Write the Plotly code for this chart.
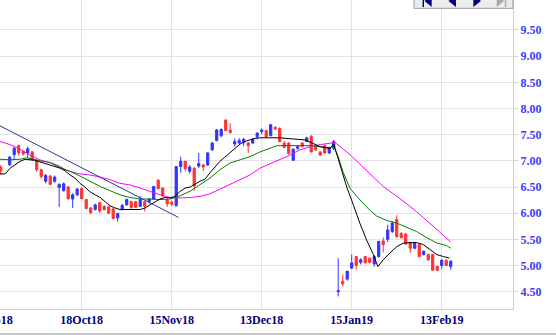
import plotly.graph_objects as go

# ---------------- data ----------------
# bar index: 0 = 18Oct18, one step per trading day
idx = [-18, -16, -15, -14, -13, -12, -11, -10, -9, -8, -7, -6, -5, -4, -3, -2, -1,
       0, 1, 2, 3, 4, 5, 6, 7, 8, 9, 10, 11, 12, 13, 14, 15, 16, 17, 18, 19, 20,
       21, 22, 23, 24, 25, 26, 27, 28, 29, 30, 31, 32, 33, 34, 35, 36, 37, 38, 39, 40,
       41, 42, 43, 44, 45, 46, 47, 48, 49, 50, 51, 52, 53, 54, 55, 56,
       57, 58, 59, 60, 61, 62, 63, 64, 65, 66, 67, 68, 69, 70, 71, 72, 73, 74, 75,
       76, 77, 78, 79, 80, 81, 82]
opens = [6.88, 6.93, 7.12, 7.29, 7.18, 7.15, 7.17, 6.99, 6.83, 6.61, 6.71, 6.61, 6.49, 6.43, 6.50, 6.27, 6.35,
         6.47, 6.26, 6.10, 6.07, 6.20, 6.13, 6.12, 6.08, 5.91, 6.08, 6.16, 6.22, 6.22, 6.13, 6.22, 6.22, 6.27, 6.63, 6.48, 6.25, 6.21,
         6.14, 6.89, 6.99, 6.80, 6.86, 6.90, 6.92, 6.92, 7.21, 7.39, 7.48, 7.78, 7.59, 7.32, 7.34, 7.35, 7.34, 7.34, 7.46, 7.56,
         7.58, 7.48, 7.64, 7.62, 7.34, 7.34, 7.01, 7.24, 7.34, 7.37, 7.47, 7.27, 7.17, 7.29, 7.15, 7.24,
         4.50, 4.70, 4.74, 4.95, 5.17, 5.06, 5.17, 5.14, 5.03, 5.17, 5.47, 5.50, 5.65, 5.88, 5.61, 5.60, 5.44, 5.33, 5.40,
         5.21, 5.21, 5.21, 4.98, 5.00, 5.10, 4.98]
highs = [6.92, 7.09, 7.27, 7.31, 7.20, 7.27, 7.19, 7.04, 6.85, 6.75, 6.73, 6.72, 6.57, 6.59, 6.52, 6.38, 6.48,
         6.49, 6.27, 6.12, 6.18, 6.22, 6.15, 6.14, 6.10, 6.01, 6.18, 6.28, 6.24, 6.23, 6.33, 6.24, 6.29, 6.52, 6.65, 6.50, 6.30, 6.24,
         6.90, 7.08, 7.00, 6.92, 6.88, 7.15, 6.94, 7.17, 7.36, 7.61, 7.62, 7.79, 7.72, 7.43, 7.43, 7.44, 7.36, 7.43, 7.55, 7.62,
         7.59, 7.70, 7.66, 7.64, 7.38, 7.36, 7.24, 7.30, 7.36, 7.46, 7.49, 7.29, 7.19, 7.31, 7.27, 7.40,
         5.14, 4.83, 4.90, 5.21, 5.18, 5.14, 5.18, 5.16, 5.20, 5.47, 5.54, 5.78, 5.85, 5.96, 5.64, 5.62, 5.46, 5.45, 5.42,
         5.29, 5.23, 5.22, 5.00, 5.12, 5.12, 5.10]
lows = [6.74, 6.90, 7.03, 7.10, 7.10, 7.06, 7.00, 6.79, 6.66, 6.57, 6.54, 6.58, 6.12, 6.41, 6.25, 6.10, 6.33,
        6.26, 6.07, 5.98, 6.05, 6.01, 6.05, 5.98, 5.88, 5.84, 6.05, 6.14, 6.08, 6.10, 6.12, 6.03, 6.18, 6.26, 6.45, 6.31, 6.12, 6.14,
        6.13, 6.77, 6.80, 6.76, 6.43, 6.86, 6.80, 6.90, 7.19, 7.37, 7.45, 7.56, 7.52, 7.27, 7.32, 7.28, 7.15, 7.32, 7.41, 7.51,
        7.44, 7.47, 7.59, 7.35, 7.24, 7.12, 7.00, 7.21, 7.26, 7.36, 7.16, 7.19, 7.10, 7.13, 7.13, 7.20,
        4.41, 4.60, 4.71, 4.93, 4.92, 5.02, 5.04, 5.04, 4.98, 5.15, 5.25, 5.45, 5.62, 5.54, 5.52, 5.40, 5.24, 5.31, 5.16,
        5.19, 5.09, 4.90, 4.89, 4.94, 4.99, 4.92]
closes = [6.80, 7.07, 7.24, 7.15, 7.13, 7.23, 7.02, 6.83, 6.70, 6.72, 6.55, 6.69, 6.55, 6.56, 6.28, 6.35, 6.46,
          6.28, 6.09, 6.01, 6.16, 6.04, 6.07, 6.00, 5.90, 5.99, 6.15, 6.26, 6.11, 6.11, 6.26, 6.13, 6.27, 6.51, 6.47, 6.33, 6.18, 6.17,
          6.89, 6.99, 6.85, 6.88, 6.52, 6.95, 6.88, 7.15, 7.34, 7.59, 7.60, 7.58, 7.54, 7.37, 7.39, 7.41, 7.29, 7.41, 7.53, 7.59,
          7.46, 7.69, 7.61, 7.37, 7.26, 7.14, 7.22, 7.27, 7.27, 7.44, 7.17, 7.21, 7.11, 7.15, 7.25, 7.37,
          4.52, 4.65, 4.89, 5.05, 5.00, 5.11, 5.05, 5.06, 5.17, 5.46, 5.40, 5.68, 5.81, 5.55, 5.53, 5.41, 5.33, 5.43, 5.17,
          5.27, 5.11, 4.91, 4.91, 5.10, 5.00, 5.08]

# short moving average (black)
ma_s_x = [-18.2, -17.0, -15.9, -14.8, -13.7, -12.6, -11.5, -10.4, -9.3, -7.0, -4.8, -3.7, -2.6, -1.5, -0.4, 0.7,
          1.8, 3.0, 4.1, 5.2, 6.3, 7.4, 8.5, 13.0, 14.1, 15.2, 16.3, 17.4, 18.5, 19.6, 20.7, 21.8, 23.0, 24.1,
          26.3, 27.4, 28.5, 29.6, 30.7, 31.8, 33.0, 34.1, 35.2, 36.3, 37.4, 38.5, 39.6, 43.0, 44.1, 45.2, 46.3,
          48.5, 49.6, 50.7, 51.8, 53.0, 54.1, 55.2, 56.0, 57.4, 58.9, 60.4, 61.8, 63.3, 64.8, 65.8, 67.0, 68.5,
          70.0, 71.5, 73.0, 74.4, 75.9, 77.4, 78.9, 80.4, 81.7]
ma_s_y = [6.75, 6.75, 6.86, 6.92, 6.99, 7.03, 7.02, 7.01, 6.98, 6.92, 6.86, 6.81, 6.73, 6.67, 6.57, 6.50,
          6.41, 6.35, 6.30, 6.22, 6.14, 6.10, 6.07, 6.07, 6.10, 6.16, 6.22, 6.27, 6.30, 6.29, 6.32, 6.41, 6.48, 6.50,
          6.61, 6.65, 6.77, 6.89, 6.99, 7.07, 7.15, 7.24, 7.32, 7.37, 7.40, 7.43, 7.44, 7.45, 7.44, 7.43, 7.42,
          7.41, 7.40, 7.36, 7.32, 7.27, 7.25, 7.24, 7.32, 6.92, 6.50, 6.15, 5.81, 5.49, 5.21, 4.98, 5.11, 5.24,
          5.36, 5.43, 5.44, 5.44, 5.40, 5.30, 5.21, 5.17, 5.14]

# medium moving average (green)
ma_m_x = [-18.2, -15.9, -13.7, -12.2, -10.8, -9.3, -7.0, -4.8, -3.7, -2.6, -0.4, 1.8, 4.1, 6.3, 8.5, 10.7,
          13.0, 15.2, 17.4, 19.6, 21.8, 24.1, 26.3, 28.5, 30.7, 33.0, 35.2, 37.4, 39.6, 41.8, 43.4, 46.3,
          50.7, 53.0, 55.2, 56.0, 57.0, 58.1, 59.6, 61.1, 62.6, 64.1, 65.6, 67.8, 70.0, 72.2, 74.4, 76.7,
          78.9, 81.1, 82.0]
ma_m_y = [7.03, 7.02, 7.03, 7.06, 7.03, 7.00, 6.97, 6.89, 6.83, 6.80, 6.71, 6.61, 6.51, 6.43, 6.35, 6.30,
          6.27, 6.27, 6.26, 6.27, 6.33, 6.42, 6.54, 6.67, 6.83, 6.96, 7.02, 7.08, 7.17, 7.24, 7.29, 7.29,
          7.29, 7.27, 7.25, 7.28, 7.08, 6.78, 6.48, 6.32, 6.18, 6.05, 5.94, 5.86, 5.81, 5.73, 5.65, 5.53,
          5.43, 5.38, 5.33]

# long moving average (magenta)
ma_l_x = [-18.2, -15.9, -13.7, -11.5, -9.3, -7.0, -4.8, -2.6, -0.4, 1.8, 4.1, 6.3, 8.5, 10.7, 13.0, 15.2,
          17.4, 19.6, 21.8, 24.1, 26.3, 28.5, 30.7, 33.0, 35.2, 37.4, 39.6, 41.8, 44.1, 46.3, 48.5, 50.7,
          53.0, 55.2, 56.3, 59.6, 63.3, 67.0, 70.7, 74.4, 78.1, 82.0]
ma_l_y = [7.37, 7.31, 7.22, 7.11, 7.02, 6.96, 6.87, 6.80, 6.75, 6.73, 6.69, 6.64, 6.57, 6.54, 6.48, 6.41,
          6.35, 6.30, 6.29, 6.30, 6.32, 6.37, 6.46, 6.54, 6.64, 6.73, 6.86, 6.94, 7.02, 7.11, 7.21, 7.27,
          7.31, 7.34, 7.35, 7.12, 6.82, 6.51, 6.28, 6.03, 5.75, 5.45]

# down trend line
trend_x = [-18.2, 21.5]
trend_y = [7.67, 5.92]

tick_idx = [0, 20, 40, 60, 80]
tick_text = ["18Oct18", "15Nov18", "13Dec18", "15Jan19", "13Feb19"]
first_tick_idx = -20
first_tick_text = "19Sep18"
price_ticks = [4.5, 5.0, 5.5, 6.0, 6.5, 7.0, 7.5, 8.0, 8.5, 9.0, 9.5]

# ---------------- figure ----------------
W, H = 556, 335
PL, PR, PT, PB = 0, 43, 0, 26
pw, ph = W - PL - PR, H - PT - PB
XR = [-18.156, 95.84]


def px(x):
    return (x - PL) / pw


def py(y):
    return (H - PB - y) / ph


fig = go.Figure()
fig.add_trace(go.Candlestick(
    x=idx, open=opens, high=highs, low=lows, close=closes,
    increasing=dict(line=dict(color="#3333ff", width=1), fillcolor="#3333ff"),
    decreasing=dict(line=dict(color="#ff3333", width=1), fillcolor="#ff3333"),
    whiskerwidth=0, hoverinfo="skip", showlegend=False))
fig.add_trace(go.Scatter(x=ma_l_x, y=ma_l_y, mode="lines", line=dict(color="#ff00ff", width=1), showlegend=False, hoverinfo="skip"))
fig.add_trace(go.Scatter(x=ma_m_x, y=ma_m_y, mode="lines", line=dict(color="#008000", width=1), showlegend=False, hoverinfo="skip"))
fig.add_trace(go.Scatter(x=ma_s_x, y=ma_s_y, mode="lines", line=dict(color="#000000", width=1), showlegend=False, hoverinfo="skip"))
fig.add_trace(go.Scatter(x=trend_x, y=trend_y, mode="lines", line=dict(color="#333399", width=1), showlegend=False, hoverinfo="skip"))

xfont = dict(family="Liberation Serif", size=12, color="#000080", weight="bold")
fig.update_layout(
    width=W, height=H, margin=dict(l=PL, r=PR, t=PT, b=PB),
    paper_bgcolor="white", plot_bgcolor="white",
    boxgap=0.3,
    xaxis=dict(range=XR, tickvals=tick_idx, ticktext=tick_text,
               showgrid=True, gridcolor="#e3e3e3", gridwidth=1, zeroline=False,
               showline=True, linecolor="#cfcfcf", linewidth=1, ticks="",
               rangeslider=dict(visible=False), tickfont=xfont),
    yaxis=dict(side="right", range=[4.169, 10.073], tickvals=price_ticks,
               ticktext=["%.2f" % v for v in price_ticks],
               showgrid=True, gridcolor="#e3e3e3", gridwidth=1, zeroline=False,
               showline=True, linecolor="#cfcfcf", linewidth=1,
               ticks="outside", ticklen=4, tickcolor="#cfcfcf",
               tickfont=dict(family="Liberation Serif", size=12, color="#3c3cff", weight="bold")),
)

# first date label, mostly cut off by the left edge
first_px = pw * (first_tick_idx - XR[0]) / (XR[1] - XR[0])
fig.add_annotation(x=px(first_px), y=py(320), xref="paper", yref="paper", text=first_tick_text,
                   showarrow=False, xanchor="center", yanchor="middle", font=xfont)

shapes = []
# navigation box at top right
shapes.append(dict(type="rect", xref="paper", yref="paper", x0=px(414), x1=px(513), y0=py(8.3), y1=py(-3),
                   fillcolor="#ececec", line=dict(color="#9a9a9a", width=1), layer="above"))


def tri(xb, xt, color):
    return dict(type="path", xref="paper", yref="paper",
                path="M %f %f L %f %f L %f %f Z" % (px(xt), py(1), px(xb), py(-5), px(xb), py(7)),
                fillcolor=color, line=dict(color=color, width=0), layer="above")


def bar(xc, color):
    return dict(type="rect", xref="paper", yref="paper", x0=px(xc - 0.7), x1=px(xc + 0.7), y0=py(7), y1=py(-3),
                fillcolor=color, line=dict(width=0), layer="above")


shapes += [bar(423.3, "#000080"), tri(431.7, 424.5, "#000080"),
           tri(456.0, 448.5, "#000080"), tri(473.3, 481.0, "#000080"),
           tri(496.7, 504.0, "#a8a8a8"), bar(505.5, "#a8a8a8")]
# line at bottom (top edge of the lower panel)
shapes.append(dict(type="line", xref="paper", yref="paper", x0=0, x1=px(W), y0=py(334), y1=py(334),
                   line=dict(color="#c8c8c8", width=2)))
fig.update_layout(shapes=shapes)

fig.write_html("out.html")
